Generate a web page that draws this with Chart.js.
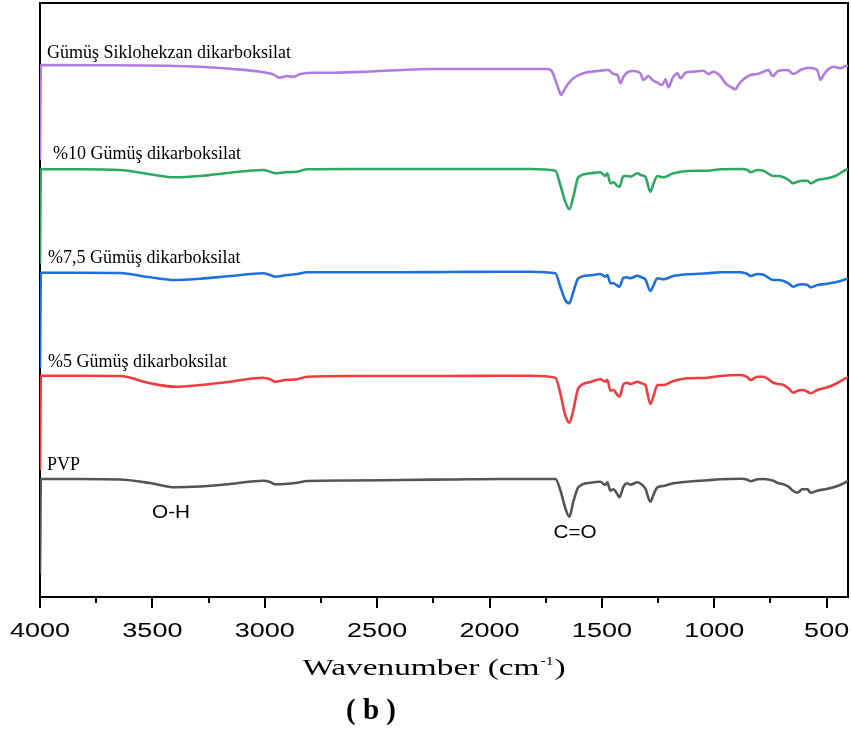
<!DOCTYPE html>
<html>
<head>
<meta charset="utf-8">
<script src="https://cdn.jsdelivr.net/npm/chart.js@4/dist/chart.umd.min.js"></script>
<style>
  html, body { margin: 0; padding: 0; background: #ffffff; }
  #wrap { width: 851px; height: 733px; }
</style>
</head>
<body>
<div id="wrap"><canvas id="ftir" width="851" height="733"></canvas></div>
<script>
// FTIR spectra, stacked with vertical offsets (transmittance, arbitrary units)
const wavenumbersFilm = [4000, 3996, 3822, 3644, 3510, 3399, 3288, 3154, 3007, 2976,
  2954, 2909, 2856, 2811, 2620, 2398, 2175, 1952, 1818, 1707,
  1685, 1663, 1645, 1627, 1605, 1551, 1507, 1485, 1476, 1462,
  1449, 1431, 1422, 1404, 1387, 1373, 1342, 1324, 1307, 1284,
  1271, 1253, 1226, 1182, 1120, 1031, 973, 884, 852, 839,
  808, 781, 737, 714, 692, 670, 648, 630, 608, 585,
  572, 541, 496, 461, 416, 405];

const pvp = [23, 118, 118, 117.5, 114, 109.7, 110.5, 113, 116.3, 115,
  112.7, 113, 114.3, 116, 116.5, 117, 117.5, 118, 118, 118,
  107, 89, 80.3, 95.3, 109.7, 114.3, 115.3, 112, 114.7, 106.3,
  107.7, 102.7, 99.7, 110.3, 113.7, 112.3, 114.7, 112.7, 108.7, 95.3,
  102, 109.7, 111, 113.7, 115.3, 116.7, 117.7, 118.3, 117.3, 115.7,
  117.7, 118, 116.3, 113.7, 112.7, 110.3, 106, 104.3, 107.7, 107.7,
  104.3, 106.3, 108.3, 110.3, 114.7, 116.3];

const silver5 = [127, 221.3, 221.3, 221, 213.7, 210.3, 212, 215.3, 219.3, 217.7,
  215.3, 217, 217.7, 220.3, 221, 221, 221, 221.3, 221.3, 219.3,
  203.7, 182, 174.3, 187, 208.7, 215, 217.7, 215.3, 217, 206.3,
  207, 202, 200.3, 212.7, 214.3, 213, 215.3, 213.7, 212, 193,
  200.3, 212, 212, 216, 218.7, 219.3, 221, 222, 219.7, 217,
  220.3, 220.3, 214.3, 213, 212, 208.7, 204.3, 206.3, 207, 205.3,
  203.7, 207, 209.7, 213, 218.7, 219.7];

const silver75 = [229, 324.3, 324.3, 324, 319.7, 317, 318.3, 321, 323.7, 322,
  320.3, 321.7, 323, 324.7, 324.7, 324.7, 325, 325.3, 325.3, 323.7,
  310.3, 297, 293.7, 305.3, 318.7, 321.7, 323, 320.3, 322, 313.7,
  313.7, 311.3, 310.3, 319.3, 319.7, 318.7, 321.3, 319.7, 317.7, 306,
  311.3, 318.7, 317.7, 321, 322.7, 323.7, 324.7, 324.7, 323, 321,
  323, 322.3, 317, 317, 316, 313.7, 310.3, 312, 312.7, 312,
  309.7, 312, 313.3, 314.7, 317.7, 318.7];

const silver10 = [333, 427.7, 427.7, 427, 422.7, 419.7, 421, 424.3, 427, 425.3,
  423.7, 424.7, 425.3, 427.7, 428, 428, 428, 428, 428, 426.3,
  412, 395.3, 387.7, 400.3, 419.7, 423.7, 424.7, 421, 423.7, 413.7,
  414.7, 411, 410.3, 421, 421, 420.3, 423.7, 421.7, 420.3, 405.3,
  413, 421, 419.7, 423.7, 426, 426.3, 427.7, 428, 427, 424.7,
  427, 426.3, 421, 421, 419.7, 417, 413.7, 415.3, 416.3, 416.3,
  413.7, 417, 418.7, 421, 427, 427.7];

const wavenumbersSalt = [4000, 3996, 3435, 3288, 3141, 3021, 2967, 2932, 2900, 2874,
  2842, 2767, 2696, 2544, 2397, 2264, 2010, 1743, 1721, 1707,
  1694, 1681, 1672, 1654, 1627, 1583, 1520, 1471, 1449, 1431,
  1418, 1404, 1382, 1360, 1329, 1315, 1293, 1275, 1253, 1231,
  1217, 1204, 1186, 1164, 1151, 1128, 1093, 1048, 1026, 1004,
  973, 950, 928, 906, 893, 870, 839, 808, 781, 759,
  741, 714, 674, 648, 616, 581, 559, 541, 527, 514,
  496, 470, 438, 416, 405];

const silverSalt = [437, 532, 531.3, 530.3, 528, 525.3, 523, 519.3, 521, 520.3,
  523, 524.3, 524.3, 525.3, 527, 528, 528, 528, 525.3, 517,
  508.7, 502, 505.3, 512, 518.7, 523.7, 526, 527, 523, 522,
  513.7, 520.3, 525.3, 526, 523.7, 517, 521, 517, 514.3, 512,
  517.7, 509.7, 518.7, 523.7, 518.7, 524.3, 525.3, 526.3, 523, 525.3,
  521, 513.7, 510.3, 507.7, 512, 517.7, 522, 523, 525.3, 527,
  521, 526.3, 527, 523, 527, 529.3, 528.7, 526.3, 517, 522,
  527, 530.3, 528.7, 531, 531.3];

const seriesNames = ['PVP', '%5 Gümüş dikarboksilat', '%7,5 Gümüş dikarboksilat',
  '%10 Gümüş dikarboksilat', 'Gümüş Siklohekzan dikarboksilat'];

const majorTicks = [4000, 3500, 3000, 2500, 2000, 1500, 1000, 500];
const minorTicks = [3750, 3250, 2750, 2250, 1750, 1250, 750];
const bandLabels = ['O-H', 'C=O'];

function toPoints(xs, ys) {
  return xs.map((x, i) => ({ x: x, y: ys[i] }));
}

const seriesColors = ['#555555', '#ef3d3d', '#1f6fdc', '#2ea862', '#b27be2'];
const seriesData = [
  toPoints(wavenumbersFilm, pvp),
  toPoints(wavenumbersFilm, silver5),
  toPoints(wavenumbersFilm, silver75),
  toPoints(wavenumbersFilm, silver10),
  toPoints(wavenumbersSalt, silverSalt)
];

// text drawn with a horizontal stretch factor
function drawText(ctx, text, x, y, font, sx, align) {
  ctx.save();
  ctx.font = font;
  ctx.textAlign = align || 'left';
  ctx.textBaseline = 'alphabetic';
  ctx.translate(x, y);
  ctx.scale(sx, 1);
  ctx.fillText(text, 0, 0);
  ctx.restore();
}

const frameAndText = {
  id: 'frameAndText',
  beforeDatasetsDraw(chart) {
    const { ctx, chartArea: a, scales } = chart;
    const xs = scales.x;
    ctx.save();
    ctx.strokeStyle = '#000';
    ctx.lineWidth = 2;
    ctx.strokeRect(a.left, a.top, a.right - a.left, a.bottom - a.top);
    ctx.beginPath();
    majorTicks.forEach(v => {
      const px = Math.round(xs.getPixelForValue(v));
      ctx.moveTo(px, a.bottom);
      ctx.lineTo(px, a.bottom + 11);
    });
    minorTicks.forEach(v => {
      const px = Math.round(xs.getPixelForValue(v));
      ctx.moveTo(px, a.bottom);
      ctx.lineTo(px, a.bottom + 6);
    });
    ctx.stroke();
    ctx.restore();
  },
  afterDraw(chart) {
    const { ctx, chartArea: a, scales } = chart;
    const xs = scales.x;
    ctx.save();
    ctx.fillStyle = '#000';

    // tick labels
    majorTicks.forEach(v => {
      drawText(ctx, String(v), xs.getPixelForValue(v), a.bottom + 40,
        '20px "Liberation Sans", Arial, sans-serif', 1.35, 'center');
    });

    // axis title with superscript
    const cx = 433;
    const by = 675;
    const sx = 1.45;
    const fMain = '23px "Liberation Serif", "Times New Roman", serif';
    const fSup = '13px "Liberation Serif", "Times New Roman", serif';
    ctx.font = fMain;
    const w1 = ctx.measureText('Wavenumber (cm').width * sx;
    const w3 = ctx.measureText(')').width * sx;
    ctx.font = fSup;
    const w2 = ctx.measureText('-1').width * 1.2;
    let x0 = cx - (w1 + w2 + w3) / 2;
    drawText(ctx, 'Wavenumber (cm', x0, by, fMain, sx, 'left');
    drawText(ctx, '-1', x0 + w1 + 1, by - 10, fSup, 1.2, 'left');
    drawText(ctx, ')', x0 + w1 + w2 + 2, by, fMain, sx, 'left');

    // panel tag
    drawText(ctx, '( b )', 371, 719, 'bold 29px "Liberation Serif", "Times New Roman", serif', 1.0, 'center');

    // series names
    const nameFont = '18px "Liberation Serif", "Times New Roman", serif';
    const namePos = [[47, 470], [48, 367], [48, 263], [53, 159], [47, 58]];
    seriesNames.forEach((n, i) => {
      drawText(ctx, n, namePos[i][0], namePos[i][1], nameFont, 1.0, 'left');
    });

    // band assignments
    const bandFont = '18px "Liberation Sans", Arial, sans-serif';
    drawText(ctx, bandLabels[0], 171, 518, bandFont, 1.15, 'center');
    drawText(ctx, bandLabels[1], 575, 538, bandFont, 1.15, 'center');
    ctx.restore();
  }
};

new Chart(document.getElementById('ftir'), {
  type: 'line',
  data: {
    datasets: seriesData.map((d, i) => ({
      label: seriesNames[i],
      data: d,
      borderColor: seriesColors[i],
      backgroundColor: seriesColors[i],
      borderWidth: 2.6,
      pointRadius: 0,
      fill: false,
      cubicInterpolationMode: 'monotone'
    }))
  },
  options: {
    responsive: false,
    animation: false,
    devicePixelRatio: 1,
    layout: { padding: { left: 40, right: 3, top: 3, bottom: 0 } },
    plugins: { legend: { display: false }, tooltip: { enabled: false } },
    scales: {
      x: {
        type: 'linear',
        reverse: true,
        min: 405,
        max: 4000,
        grid: { display: false },
        border: { display: false },
        ticks: { display: false },
        afterFit(scale) { scale.height = 136; }
      },
      y: {
        display: false,
        min: 0,
        max: 594
      }
    }
  },
  plugins: [frameAndText]
});
</script>
</body>
</html>
